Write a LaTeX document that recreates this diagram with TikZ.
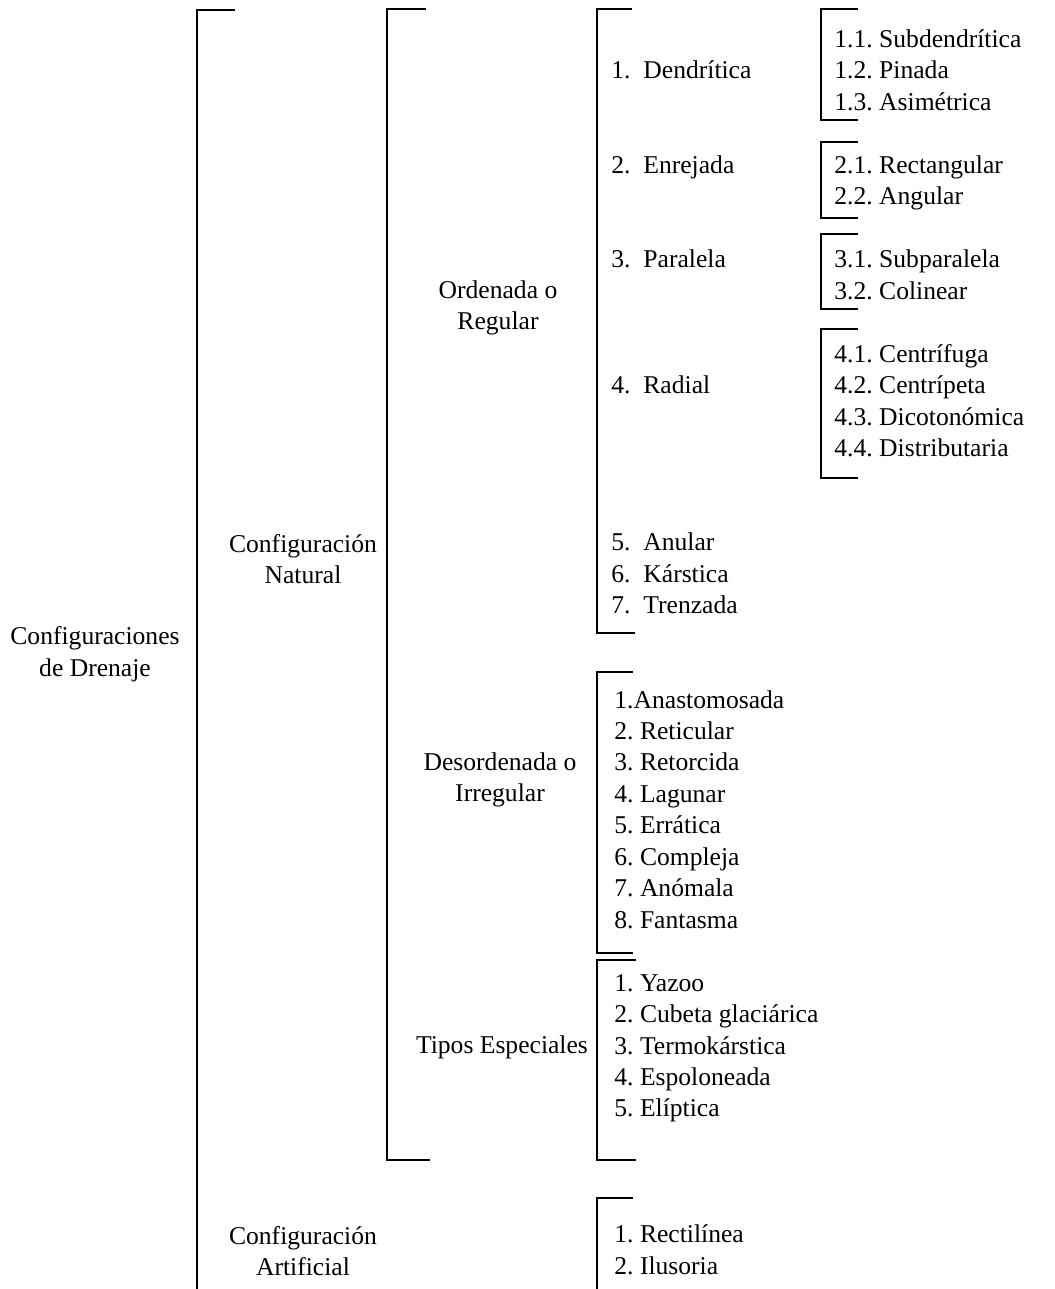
\documentclass[tikz,border=0pt]{standalone}
\usepackage{fontspec}
\setmainfont{Liberation Serif}
\frenchspacing

\begin{document}
\begin{tikzpicture}[x=0.5pt, y=-0.5pt,
        font=\fontsize{12.8pt}{15.725pt}\selectfont,
        brk/.style={line width=1.1pt},
        lbl/.style={align=center, inner sep=0pt},
        entry/.style={anchor=base west, inner sep=0pt}]
    \useasboundingbox (0,0) rectangle (1054,1289);

    % headings
    \node[lbl] (root) at (95, 654) {Configuraciones\\de Drenaje};
    \node[lbl] (nat) at (303, 559) {Configuración\\Natural};
    \node[lbl] (art) at (303, 1251) {Configuración\\Artificial};
    \node[lbl] (ord) at (498, 308) {Ordenada o\\Regular};
    \node[lbl] (des) at (500, 780) {Desordenada o\\Irregular};
    \node[lbl] (esp) at (502, 1047) {Tipos Especiales};

    % ordered patterns
    \node[entry] (o1) at (611, 79) {1.\ \ Dendrítica};
    \node[entry] (o2) at (611, 173.4) {2.\ \ Enrejada};
    \node[entry] (o3) at (611, 267.7) {3.\ \ Paralela};
    \node[entry] (o4) at (611, 393.5) {4.\ \ Radial};
    \node[entry] (o5) at (611, 550.8) {5.\ \ Anular};
    \node[entry] (o6) at (611, 582.2) {6.\ \ Kárstica};
    \node[entry] (o7) at (611, 613.7) {7.\ \ Trenzada};

    \node[entry] (s11) at (834, 47.5) {1.1. Subdendrítica};
    \node[entry] (s12) at (834, 79) {1.2. Pinada};
    \node[entry] (s13) at (834, 110.5) {1.3. Asimétrica};
    \node[entry] (s21) at (834, 173.4) {2.1. Rectangular};
    \node[entry] (s22) at (834, 204.8) {2.2. Angular};
    \node[entry] (s31) at (834, 267.7) {3.1. Subparalela};
    \node[entry] (s32) at (834, 299.2) {3.2. Colinear};
    \node[entry] (s41) at (834, 362.1) {4.1. Centrífuga};
    \node[entry] (s42) at (834, 393.5) {4.2. Centrípeta};
    \node[entry] (s43) at (834, 425) {4.3. Dicotonómica};
    \node[entry] (s44) at (834, 456.4) {4.4. Distributaria};

    % disordered patterns
    \node[entry] (i1) at (614, 708) {1.Anastomosada};
    \node[entry] (i2) at (614, 739.5) {2. Reticular};
    \node[entry] (i3) at (614, 770.9) {3. Retorcida};
    \node[entry] (i4) at (614, 802.4) {4. Lagunar};
    \node[entry] (i5) at (614, 833.8) {5. Errática};
    \node[entry] (i6) at (614, 865.3) {6. Compleja};
    \node[entry] (i7) at (614, 896.7) {7. Anómala};
    \node[entry] (i8) at (614, 928.2) {8. Fantasma};

    % special types
    \node[entry] (e1) at (614, 991.1) {1. Yazoo};
    \node[entry] (e2) at (614, 1022.5) {2. Cubeta glaciárica};
    \node[entry] (e3) at (614, 1054) {3. Termokárstica};
    \node[entry] (e4) at (614, 1085.4) {4. Espoloneada};
    \node[entry] (e5) at (614, 1116.9) {5. Elíptica};

    % artificial
    \node[entry] (a1) at (614, 1242.7) {1. Rectilínea};
    \node[entry] (a2) at (614, 1274.1) {2. Ilusoria};

    % brackets
    \draw[brk] (235, 10) -- (197, 10) -- (197, 1289);
    \draw[brk] (426, 9) -- (387, 9) -- (387, 1160) -- (430, 1160);
    \draw[brk] (632, 9) -- (597, 9) -- (597, 633) -- (635, 633);
    \draw[brk] (633, 672) -- (597, 672) -- (597, 953) -- (633, 953);
    \draw[brk] (636, 960) -- (597, 960) -- (597, 1160) -- (636, 1160);
    \draw[brk] (633, 1198) -- (597, 1198) -- (597, 1289);
    \draw[brk] (858, 9) -- (821, 9) -- (821, 120) -- (858, 120);
    \draw[brk] (858, 142) -- (821, 142) -- (821, 218) -- (858, 218);
    \draw[brk] (858, 234) -- (821, 234) -- (821, 309) -- (858, 309);
    \draw[brk] (858, 329) -- (821, 329) -- (821, 478) -- (858, 478);
\end{tikzpicture}
\end{document}
